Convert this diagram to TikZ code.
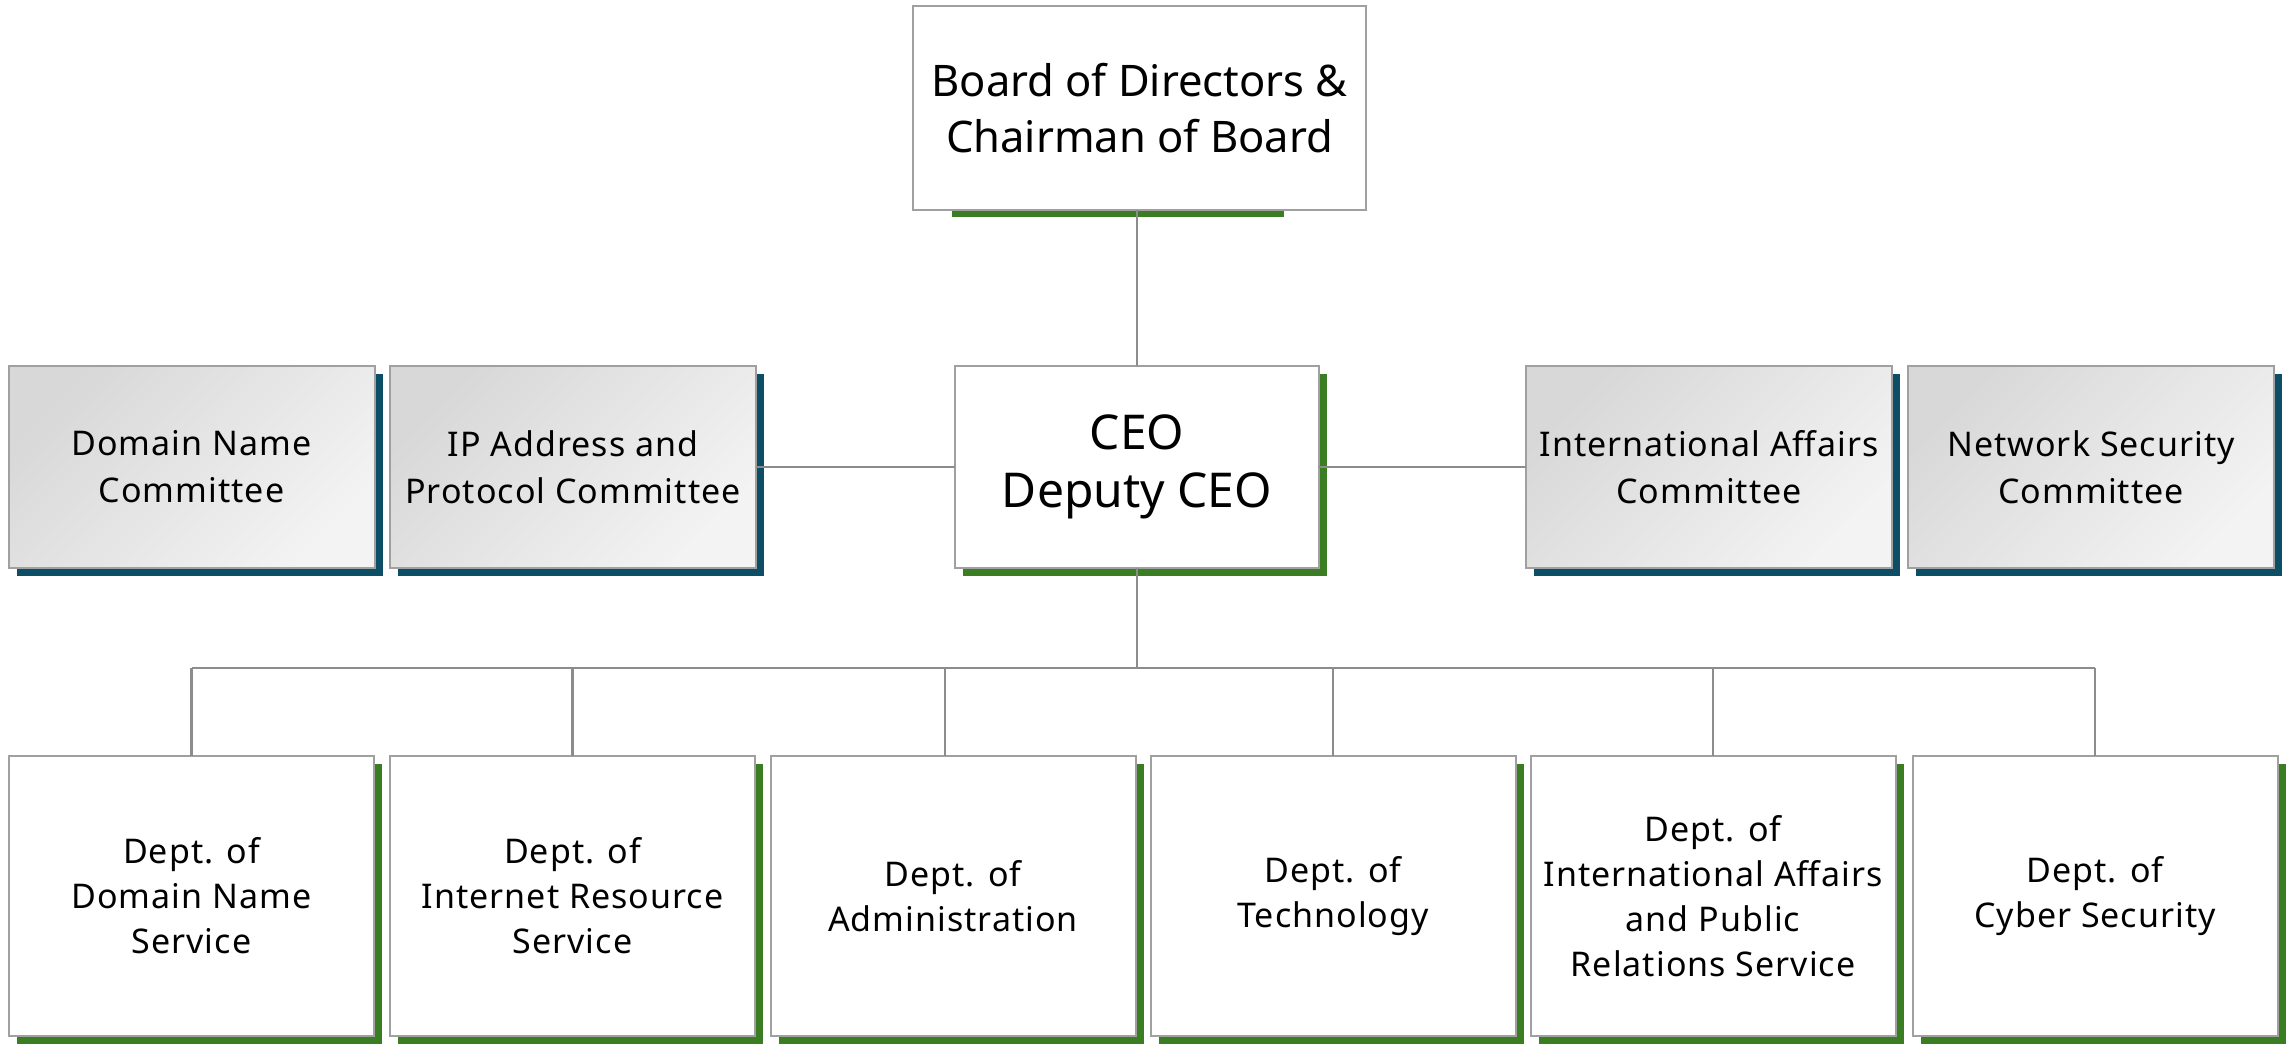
\documentclass[tikz,border=0pt]{standalone}
\usepackage{fontspec}
\setmainfont{Noto Sans}
\newfontfamily\spf[LetterSpace=3]{Noto Sans}
\usetikzlibrary{backgrounds,calc}
\definecolor{bordergray}{RGB}{160,160,160}
\definecolor{linegray}{RGB}{140,140,140}
\definecolor{shgreen}{RGB}{58,125,34}
\definecolor{shblue}{RGB}{12,78,102}
\definecolor{shadeA}{RGB}{216,216,216}
\definecolor{shadeB}{RGB}{243,243,243}
\begin{document}
\begin{tikzpicture}[x=1pt,y=-1pt,
  box/.style={draw=bordergray, line width=2pt, fill=white, inner sep=0pt, outer sep=0pt, align=center},
  dept/.style={box, minimum width=365pt, minimum height=280pt, font=\spf\fontsize{34}{45}\selectfont},
  comm/.style={box, minimum width=366pt, minimum height=202pt, top color=shadeA, bottom color=shadeB, shading angle=45, font=\spf\fontsize{34}{47}\selectfont},
  conn/.style={draw=linegray, line width=2.2pt}]
\useasboundingbox (0,0) rectangle (2293,1045);
% top
\node[box, minimum width=453pt, minimum height=204pt, font=\fontsize{43.5}{56}\selectfont] (board) at (1139.5,108) {Board of Directors \&\\Chairman of Board};
\node[box, minimum width=364pt, minimum height=202pt, font=\fontsize{48}{58}\selectfont] (ceo) at (1137,467) {CEO\\Deputy CEO};
% committees
\node[comm] (dn) at (191.5,467) {Domain Name\\Committee};
\node[comm] (ip) at (573,467) {IP Address and\\Protocol Committee};
\node[comm] (ia) at (1709,467) {International Affairs\\Committee};
\node[comm] (ns) at (2091,467) {Network Security\\Committee};
% departments
\node[dept] (d1) at (191.5,896) {Dept. of\\Domain Name\\Service};
\node[dept] (d2) at (572.5,896) {Dept. of\\Internet Resource\\Service};
\node[dept] (d3) at (953,896) {Dept. of\\Administration};
\node[dept] (d4) at (1333,896) {Dept. of\\Technology};
\node[dept] (d5) at (1713,896) {Dept. of\\International Affairs\\and Public\\Relations Service};
\node[dept] (d6) at (2095,896) {Dept. of\\Cyber Security};
% shadows
\begin{scope}[on background layer]
  \foreach \n in {ceo,d1,d2,d3,d4,d5,d6}
    \fill[shgreen] ([shift={(8,8)}]\n.north west) rectangle ([shift={(8,8)}]\n.south east);
  \foreach \n in {dn,ip,ia,ns}
    \fill[shblue] ([shift={(8,8)}]\n.north west) rectangle ([shift={(8,8)}]\n.south east);
  \fill[shgreen] ([xshift=-188pt]board.south) rectangle ([xshift=144pt,yshift=-7pt]board.south);
\end{scope}
% connectors
\coordinate (bus) at (0,668);
\draw[conn] (ceo.north) -- (ceo.north |- board.south);
\draw[conn] (ip.east) -- (ceo.west);
\draw[conn] (ceo.east) -- (ia.west);
\draw[conn] (ceo.south) -- (ceo.south |- bus);
\draw[conn] (d1.north |- bus) -- (d6.north |- bus);
\foreach \n in {d1,d2,d4,d5,d6}
  \draw[conn] (\n.north) -- (\n.north |- bus);
\draw[conn] ([xshift=-8pt]d3.north) -- ([xshift=-8pt]d3.north |- bus);
\end{tikzpicture}
\end{document}
